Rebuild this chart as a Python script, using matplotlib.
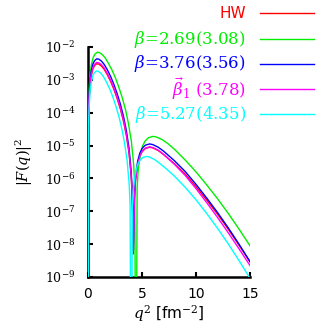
import numpy as np
import matplotlib
matplotlib.use("Agg")
import matplotlib.pyplot as plt
from matplotlib.lines import Line2D
from matplotlib.ticker import FixedLocator, FixedFormatter, NullLocator

plt.rcParams['mathtext.fontset'] = 'dejavuserif'

# ---- data (q^2 in fm^-2, log10 |F(q)|^2) ----
hw_q2 = [0, 0.05, 0.1, 0.2, 0.3, 0.45, 0.6, 0.8, 1.0, 1.25, 1.5, 1.8, 2.1, 2.4, 2.7, 3.0, 3.3, 3.55, 3.8, 4.0,
         4.1, 4.2, 4.3, 4.4, 4.6, 4.8, 5.0, 5.3, 5.7, 6.0, 6.5, 7, 8, 9, 10, 11, 12, 13, 14, 15]
hw_log = [-15, -4.19, -3.64, -3.13, -2.88, -2.67, -2.57, -2.51, -2.52, -2.58, -2.68, -2.85, -3.05, -3.29, -3.57,
          -3.89, -4.28, -4.69, -5.23, -5.94, -6.59, -8.3, -6.61, -6.06, -5.57, -5.33, -5.19, -5.09, -5.05, -5.07,
          -5.15, -5.27, -5.55, -5.87, -6.25, -6.66, -7.09, -7.55, -8.04, -8.54]

green_q2 = [0, 0.05, 0.11, 0.21, 0.32, 0.48, 0.63, 0.85, 1.06, 1.32, 1.59, 1.9, 2.22, 2.54, 2.85, 3.17, 3.49, 3.75,
            4.02, 4.23, 4.33, 4.44, 4.55, 4.65, 4.86, 5.07, 5.29, 5.6, 6.02, 6.34, 6.87, 7.4, 8, 9, 10, 11, 12, 13, 14, 15]
green_log = [-15, -3.84, -3.29, -2.78, -2.53, -2.32, -2.22, -2.16, -2.17, -2.23, -2.33, -2.50, -2.70, -2.94, -3.22,
             -3.54, -3.93, -4.34, -4.88, -5.59, -6.24, -15, -6.28, -5.73, -5.24, -5.00, -4.86, -4.76, -4.72, -4.74,
             -4.82, -4.94, -5.11, -5.44, -5.80, -6.20, -6.62, -7.07, -7.55, -8.05]

blue_q2 = hw_q2
blue_log = [-15, -4.04, -3.49, -2.98, -2.73, -2.52, -2.42, -2.36, -2.37, -2.43, -2.53, -2.70, -2.90, -3.14, -3.42,
            -3.74, -4.13, -4.54, -5.08, -5.79, -6.44, -8.2, -6.51, -5.96, -5.47, -5.23, -5.09, -4.99, -4.95, -4.97,
            -5.05, -5.17, -5.46, -5.79, -6.18, -6.60, -7.04, -7.51, -8.01, -8.53]

mag_q2 = hw_q2
mag_log = [-15, -4.15, -3.60, -3.09, -2.84, -2.63, -2.53, -2.47, -2.48, -2.54, -2.64, -2.81, -3.01, -3.25, -3.53,
           -3.85, -4.24, -4.65, -5.19, -5.90, -6.55, -8.2, -6.60, -6.05, -5.56, -5.32, -5.18, -5.08, -5.04, -5.06,
           -5.14, -5.27, -5.57, -5.91, -6.31, -6.74, -7.19, -7.66, -8.15, -8.65]

cyan_q2 = [0, 0.05, 0.1, 0.19, 0.29, 0.43, 0.57, 0.76, 0.95, 1.19, 1.43, 1.71, 2.0, 2.29, 2.57, 2.86, 3.14, 3.38,
           3.62, 3.81, 3.9, 4.0, 4.1, 4.19, 4.38, 4.57, 4.76, 5.05, 5.43, 5.71, 6.19, 6.67, 7.3, 8, 9, 10, 11, 12, 13,
           14, 15]
cyan_log = [-15, -4.41, -3.86, -3.35, -3.10, -2.89, -2.79, -2.73, -2.74, -2.80, -2.90, -3.07, -3.27, -3.51, -3.79,
            -4.11, -4.50, -4.91, -5.45, -6.16, -6.81, -15, -6.89, -6.34, -5.85, -5.61, -5.47, -5.37, -5.33, -5.35,
            -5.43, -5.55, -5.72, -5.93, -6.27, -6.65, -7.07, -7.52, -8.00, -8.51, -9.04]

labels = ['HW', r'$\beta$=2.69(3.08)', r'$\beta$=3.76(3.56)', r'$\vec{\beta}_1$ (3.78)', r'$\beta$=5.27(4.35)']
colors = ['#ff0000', '#00ee00', '#0000ff', '#ff00ff', '#00ffff']

xticks = [0, 5, 10, 15]
xtick_labels = ['0', '5', '10', '15']
yticks = [1e-9, 1e-8, 1e-7, 1e-6, 1e-5, 1e-4, 1e-3, 1e-2]
ytick_labels = [r'$10^{-9}$', r'$10^{-8}$', r'$10^{-7}$', r'$10^{-6}$', r'$10^{-5}$', r'$10^{-4}$', r'$10^{-3}$', r'$10^{-2}$']

# ---- figure ----
W = H = 327
fig = plt.figure(figsize=(W / 100, H / 100), dpi=100)
ax = fig.add_axes([88 / W, 1 - 277 / H, (250 - 88) / W, (277 - 47) / H])

series = [(hw_q2, hw_log), (green_q2, green_log), (blue_q2, blue_log), (mag_q2, mag_log), (cyan_q2, cyan_log)]
for (xq, ylg), c in zip(series, colors):
    ax.plot(xq, 10.0 ** np.array(ylg), color=c, lw=1.0, zorder=3)

ax.set_yscale('log')
ax.set_xlim(0, 15)
ax.set_ylim(1e-9, 1e-2)

for s in ['top', 'right']:
    ax.spines[s].set_visible(False)
for s in ['left', 'bottom']:
    ax.spines[s].set_linewidth(1.8)
    ax.spines[s].set_color('black')

ax.xaxis.set_major_locator(FixedLocator(xticks))
ax.xaxis.set_major_formatter(FixedFormatter(xtick_labels))
ax.yaxis.set_major_locator(FixedLocator(yticks))
ax.yaxis.set_major_formatter(FixedFormatter(ytick_labels))
ax.yaxis.set_minor_locator(NullLocator())
ax.xaxis.set_minor_locator(NullLocator())

ax.tick_params(axis='both', direction='in', length=3.5, width=1.5, color='black')
ax.tick_params(axis='y', pad=9, labelsize=9)
ax.tick_params(axis='x', pad=7, labelsize=10)
for t in ax.get_xticklabels():
    t.set_fontfamily('DejaVu Sans')
for t in ax.get_yticklabels():
    t.set_fontfamily('DejaVu Serif')

ax.set_xlabel(r'$q^2$ [fm$^{-2}$]', fontsize=11, family='DejaVu Sans')
ax.xaxis.set_label_coords(0.5, -0.115)
ax.set_ylabel(r'$|F(q)|^2$', fontsize=10.5)
ax.yaxis.set_label_coords(-0.33, 0.5)

# ---- key (gnuplot style: right-justified text, sample line on the right) ----
row_y = [13.3, 39, 63.5, 89, 114.3]
for lab, c, yy in zip(labels, colors, row_y):
    fam = 'DejaVu Sans' if lab == 'HW' else 'DejaVu Serif'
    fs = 11 if lab == 'HW' else 12
    fig.text(246 / W, 1 - yy / H, lab, ha='right', va='center', color=c, family=fam, fontsize=fs)
    fig.add_artist(Line2D([259.5 / W, 313.5 / W], [1 - yy / H, 1 - yy / H], transform=fig.transFigure,
                          color=c, lw=1.0))

fig.savefig('out.png', dpi=100)
